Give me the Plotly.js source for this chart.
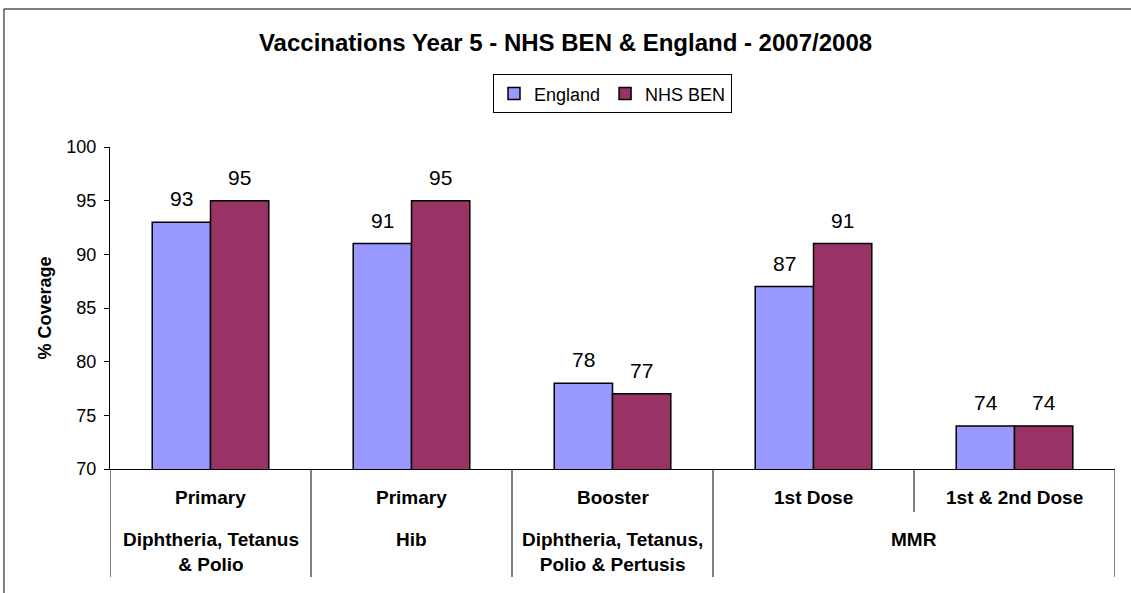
<!DOCTYPE html>
<html>
<head>
<meta charset="utf-8">
<script src="https://cdn.plot.ly/plotly-3.0.1.min.js"></script>
<style>html,body{margin:0;padding:0;background:#fff;}#chart{width:1131px;height:593px;}</style>
</head>
<body>
<div id="chart"></div>
<script>
// ---- data ----
const categories = ["Primary", "Primary", "Booster", "1st Dose", "1st & 2nd Dose"];
const groups = ["Diphtheria, Tetanus<br>& Polio", "Hib", "Diphtheria, Tetanus,<br>Polio & Pertusis", "MMR", "MMR"];
const england = [93, 91, 78, 87, 74];
const nhsBen = [95, 95, 77, 91, 74];
const seriesNames = ["England", "NHS BEN"];
const yTicks = [70, 75, 80, 85, 90, 95, 100];

// ---- chart ----
const FONT = "Liberation Sans, Arial, sans-serif";
const xs = categories.map((_, i) => i);
const colors = ["#9999FF", "#993366"];

const traces = [england, nhsBen].map((vals, k) => ({
  type: "bar",
  name: seriesNames[k],
  x: xs,
  y: vals,
  marker: {color: colors[k], line: {color: "#000", width: 1.5}},
  hoverinfo: "y"
}));

const annotations = [];
// value labels
const barHalf = 29;
[england, nhsBen].forEach((vals, k) => {
  vals.forEach((v, i) => {
    annotations.push({
      x: i, y: v, xref: "x", yref: "y", text: String(v), showarrow: false,
      xshift: k === 0 ? -barHalf : barHalf, yshift: 10, yanchor: "bottom",
      font: {family: FONT, size: 21, color: "#000"}
    });
  });
});
// category (inner) labels
categories.forEach((c, i) => {
  annotations.push({
    x: i, y: -0.09, xref: "x", yref: "paper", text: "<b>" + c + "</b>", showarrow: false,
    yanchor: "middle", font: {family: FONT, size: 19, color: "#000"}
  });
});
// group (outer) labels, spans of consecutive equal labels
const spans = [];
groups.forEach((g, i) => {
  if (spans.length && spans[spans.length - 1].label === g) spans[spans.length - 1].end = i;
  else spans.push({label: g, start: i, end: i});
});
spans.forEach(s => {
  annotations.push({
    x: (s.start + s.end) / 2, y: -0.18, xref: "x", yref: "paper", text: "<b>" + s.label + "</b>",
    showarrow: false, yanchor: "top", font: {family: FONT, size: 19, color: "#000"}
  });
});

// separators
const shapes = [];
for (let i = 0; i <= categories.length; i++) {
  const b = i - 0.5;
  const inside = i > 0 && i < categories.length && groups[i] === groups[i - 1];
  shapes.push({
    type: "line", xref: "x", yref: "paper", x0: b, x1: b, y0: 0, y1: inside ? -0.1335 : -0.3354,
    line: {color: "#000", width: 1}
  });
}
// outer chart border
shapes.push({
  type: "rect", xref: "paper", yref: "paper", x0: -0.1055, x1: 1.05, y0: 1.4286, y1: -0.5,
  line: {color: "#000", width: 1}, fillcolor: "rgba(0,0,0,0)"
});

const layout = {
  width: 1131, height: 593,
  margin: {l: 110, r: 16, t: 147, b: 124},
  paper_bgcolor: "#fff", plot_bgcolor: "#fff",
  font: {family: FONT, color: "#000"},
  title: {
    text: "<b>Vaccinations Year 5 - NHS BEN & England - 2007/2008</b>",
    font: {family: FONT, size: 24, color: "#000"},
    x: 0.5, xref: "container", y: 1 - 43 / 593, yref: "container", yanchor: "middle"
  },
  barmode: "group", bargap: 0.42, bargroupgap: 0,
  showlegend: true,
  legend: {
    orientation: "h", x: 0.5, xanchor: "center", y: 1.165, yanchor: "middle",
    bordercolor: "#000", borderwidth: 1, bgcolor: "#fff",
    font: {family: FONT, size: 18, color: "#000"}, itemwidth: 30, tracegroupgap: 0
  },
  xaxis: {
    type: "linear", range: [-0.5, categories.length - 0.5],
    showticklabels: false, ticks: "", showgrid: false, zeroline: false,
    showline: true, linecolor: "#000", linewidth: 1, fixedrange: true
  },
  yaxis: {
    range: [70, 100], tickvals: yTicks, ticktext: yTicks.map(String),
    ticks: "outside", ticklen: 5, tickcolor: "#000", tickwidth: 1, ticklabelstandoff: 4,
    showgrid: false, zeroline: false, showline: true, linecolor: "#000", linewidth: 1,
    tickfont: {family: FONT, size: 18, color: "#000"},
    title: {text: "<b>% Coverage</b>", font: {family: FONT, size: 18, color: "#000"}, standoff: 10},
    fixedrange: true
  },
  annotations: annotations,
  shapes: shapes
};

Plotly.newPlot("chart", traces, layout, {staticPlot: true, displayModeBar: false});
</script>
</body>
</html>
